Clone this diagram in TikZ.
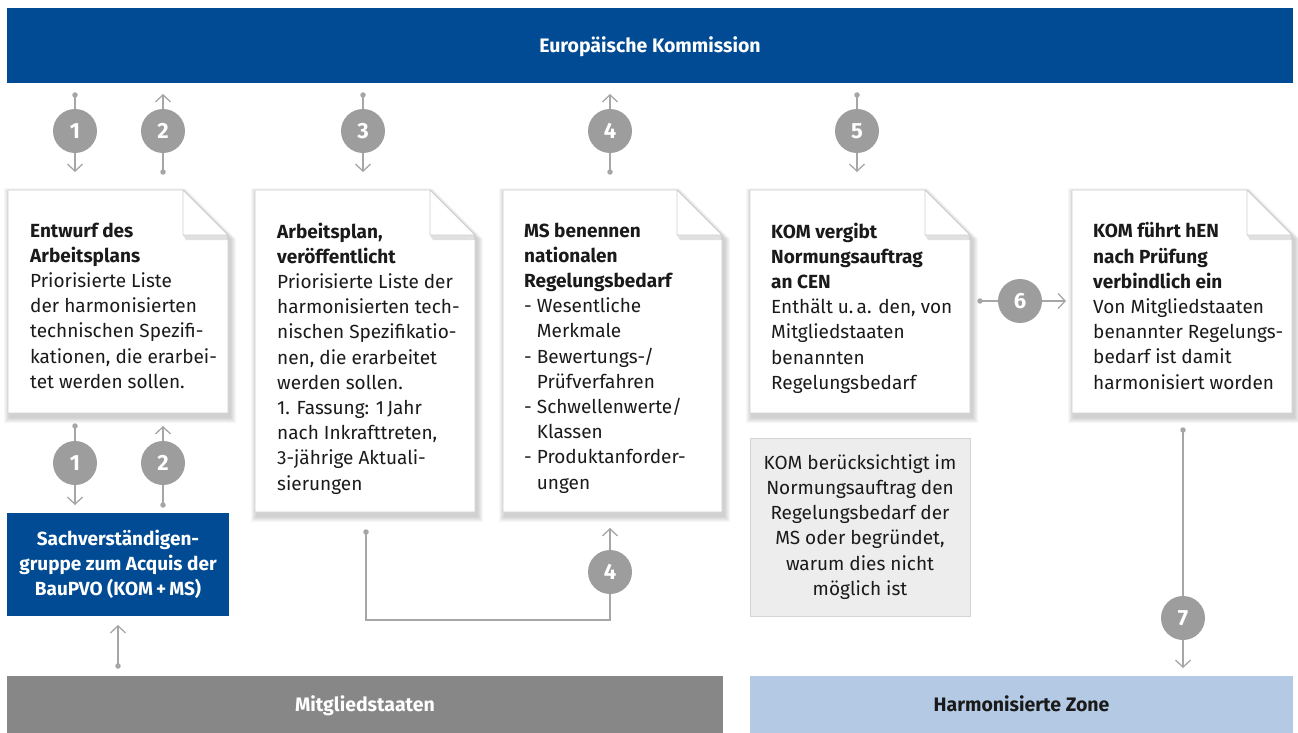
\documentclass[tikz,border=0pt]{standalone}
\usepackage{fontspec}
\setmainfont{Fira Sans}
\usetikzlibrary{arrows.meta}
\definecolor{kblue}{HTML}{004B93}
\definecolor{mgray}{HTML}{878787}
\definecolor{hzone}{HTML}{B4CAE4}
\definecolor{circcol}{HTML}{9D9D9D}
\definecolor{conncol}{HTML}{A6A6A6}
\definecolor{notefill}{HTML}{EDEDED}
\definecolor{noteborder}{HTML}{D4D4D4}
\definecolor{docborder}{HTML}{CFCFCF}
\definecolor{txtcol}{HTML}{1A1A1A}
\tikzset{
  conn/.style={draw=conncol, line width=1.3pt},
  arr/.style={-{Straight Barb[length=7pt,width=15pt,line width=1.3pt]}},
  num/.style={circle, fill=circcol, minimum size=44pt, inner sep=0pt, text=white, font=\fontsize{22}{22}\selectfont\bfseries},
  dotn/.style={circle, fill=conncol, minimum size=5.5pt, inner sep=0pt},
  doctext/.style={anchor=north west, align=left, inner sep=0pt, text=txtcol, font=\fontsize{19}{25.2}\selectfont},
  barnode/.style={inner sep=0pt, text height=13.5pt, text depth=0pt, font=\fontsize{19.5}{22}\selectfont\bfseries},
}
\newcommand\docbox[5]{%
  \foreach \k in {1,...,6}{%
    \fill[black,opacity=0.03] (#2+2-\k,#3+4-\k) -- (#4-45+2,#3+4-\k) -- (#4+2+\k,#3+49) -- (#4+2+\k,#5+4+\k) -- (#2+2-\k,#5+4+\k) -- cycle;}
  \filldraw[fill=white,draw=docborder,line width=0.8pt] (#2,#3) -- (#4-45,#3) -- (#4,#3+45) -- (#4,#5) -- (#2,#5) -- cycle;
  \fill[black,opacity=0.12] (#4-45,#3+45) -- (#4,#3+45) -- (#4,#3+50) -- (#4-42,#3+50) -- cycle;
  \filldraw[fill=white,draw=docborder,line width=0.8pt,line join=round] (#4-45,#3) -- (#4-45,#3+45) -- (#4,#3+45) -- cycle;
  \node[inner sep=0pt,minimum width={(#4-#2)*1pt},minimum height={(#5-#3)*1pt}] (#1) at ({(#2+#4)/2},{(#3+#5)/2}) {};
}
\begin{document}
\begin{tikzpicture}[x=1pt,y=-1pt]
\useasboundingbox[fill=white] (0,0) rectangle (1298,733);

% bars
\node[barnode, fill=kblue, text=white, minimum width=1286pt, minimum height=75pt] (ek) at (650,45.5) {Europäische Kommission};
\node[barnode, fill=mgray, text=white, minimum width=716pt, minimum height=57pt] (ms) at (365,704.5) {Mitgliedstaaten};
\node[barnode, fill=hzone, text=txtcol, minimum width=543pt, minimum height=57pt] (hz) at (1021.5,704.5) {Harmonisierte Zone};

% documents
\docbox{doc1}{8}{190}{228}{413}
\docbox{doc2}{255}{190}{475}{512}
\docbox{doc3}{503}{190}{722}{512}
\docbox{doc5}{750}{190}{970}{413}
\docbox{doc7}{1072}{190}{1292}{413}

\node[doctext] (t1) at (30,222.5) {\textbf{Entwurf des}\\\textbf{Arbeitsplans}\\Priorisierte Liste\\der harmonisierten\\technischen Spezifi-\\kationen, die erarbei-\\tet werden sollen.};
\node[doctext] (t2) at (277,222.5) {\textbf{Arbeitsplan,}\\\textbf{veröffentlicht}\\Priorisierte Liste der\\harmonisierten tech-\\nischen Spezifikatio-\\nen, die erarbeitet\\werden sollen.\\1. Fassung: 1\,Jahr\\nach Inkrafttreten,\\3-jährige Aktuali-\\sierungen};
\node[doctext] (t3) at (524,222.5) {\textbf{MS benennen}\\\textbf{nationalen}\\\textbf{Regelungsbedarf}\\-\ Wesentliche\\\hphantom{-\ }Merkmale\\-\ Bewertungs-/\\\hphantom{-\ }Prüfverfahren\\-\ Schwellenwerte/\\\hphantom{-\ }Klassen\\-\ Produktanforder-\\\hphantom{-\ }ungen};
\node[doctext] (t5) at (771,222.5) {\textbf{KOM vergibt}\\\textbf{Normungsauftrag}\\\textbf{an CEN}\\Enthält u.\,a. den, von\\Mitgliedstaaten\\benannten\\Regelungsbedarf};
\node[doctext] (t7) at (1093,222.5) {\textbf{KOM führt hEN}\\\textbf{nach Prüfung}\\\textbf{verbindlich ein}\\Von Mitgliedstaaten\\benannter Regelungs-\\bedarf ist damit\\harmonisiert worden};

% note and expert group
\node[fill=notefill, draw=noteborder, line width=0.8pt, minimum width=220pt, minimum height=178pt, align=center, inner sep=0pt, text=txtcol, font=\fontsize{19}{25.2}\selectfont] (note) at (860,527) {KOM berücksichtigt im\\Normungsauftrag den\\Regelungsbedarf der\\MS oder begründet,\\warum dies nicht\\möglich ist};
\node[fill=kblue, minimum width=222pt, minimum height=103pt, align=center, inner sep=0pt, text=white, font=\fontsize{19}{25}\selectfont\bfseries] (sv) at (118,564.5) {Sachverständigen-\\gruppe zum Acquis der\\BauPVO (KOM\,+\,MS)};

% dots and tips
\node[dotn] (d1) at (75,95) {};   \coordinate (e1) at (75,172);
\node[dotn] (d2) at (163,172) {}; \coordinate (e2) at (163,94);
\node[dotn] (d3) at (363,95) {};  \coordinate (e3) at (363,172);
\node[dotn] (d4) at (610,172) {}; \coordinate (e4) at (610,94);
\node[dotn] (d5) at (857,95) {};  \coordinate (e5) at (857,172);
\node[dotn] (d1b) at (75,426) {}; \coordinate (e1b) at (75,505);
\node[dotn] (d2b) at (163,505) {};\coordinate (e2b) at (163,426);
\node[dotn] (dm) at (118,666) {}; \coordinate (em) at (118,625);
\node[dotn] (d4b) at (366,532) {};\coordinate (k4b) at (366,620); \coordinate (e4b) at (610,528);
\node[dotn] (d6) at (980,301) {}; \coordinate (e6) at (1066,301);
\node[dotn] (d7) at (1183,430) {};\coordinate (e7) at (1183,668);

\draw[conn,arr] (d1.center) -- (e1);
\draw[conn,arr] (d2.center) -- (e2);
\draw[conn,arr] (d3.center) -- (e3);
\draw[conn,arr] (d4.center) -- (e4);
\draw[conn,arr] (d5.center) -- (e5);
\draw[conn,arr] (d1b.center) -- (e1b);
\draw[conn,arr] (d2b.center) -- (e2b);
\draw[conn,arr] (dm.center) -- (em);
\draw[conn,arr] (d4b.center) -- (k4b) -| (e4b);
\draw[conn,arr] (d6.center) -- (e6);
\draw[conn,arr] (d7.center) -- (e7);

% number circles
\node[num] (c1) at (75,131) {1};
\node[num] (c2) at (163,131) {2};
\node[num] (c3) at (363,131) {3};
\node[num] (c4) at (610,131) {4};
\node[num] (c5) at (857,131) {5};
\node[num] (c1b) at (75,463) {1};
\node[num] (c2b) at (163,463) {2};
\node[num] (c4b) at (610,572) {4};
\node[num] (c6) at (1020,301) {6};
\node[num] (c7) at (1183,618) {7};
\end{tikzpicture}
\end{document}
